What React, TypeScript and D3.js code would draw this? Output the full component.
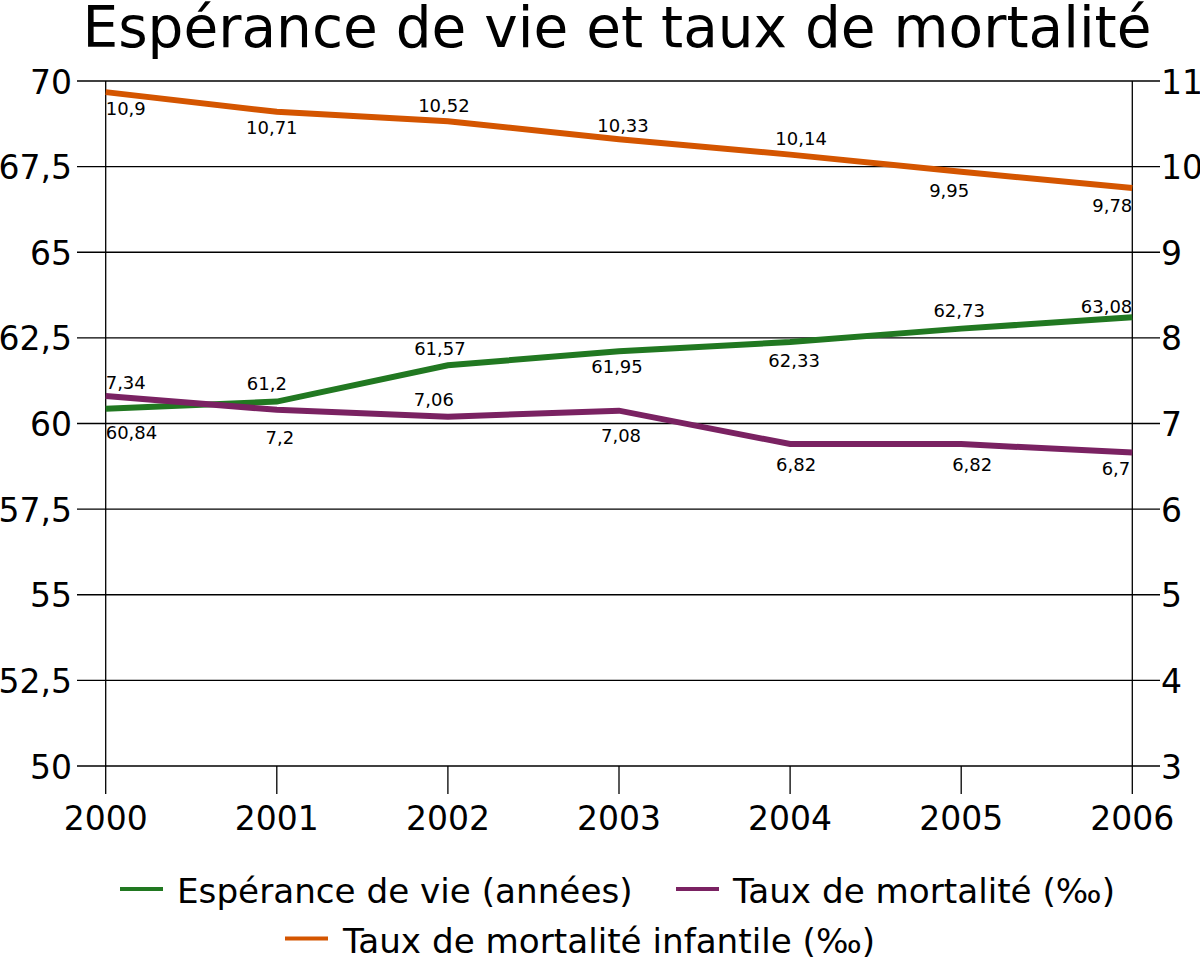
import React from "react";
import * as d3 from "d3";

const years = [2000, 2001, 2002, 2003, 2004, 2005, 2006];
const lifeExpectancy = [60.43, 60.64, 61.7, 62.11, 62.38, 62.77, 63.1];
const lifeExpectancyLabels = ["60,84", "61,2", "61,57", "61,95", "62,33", "62,73", "63,08"];
const mortality = [7.32, 7.16, 7.08, 7.15, 6.76, 6.76, 6.66];
const mortalityLabels = ["7,34", "7,2", "7,06", "7,08", "6,82", "6,82", "6,7"];
const infantMortality = [10.87, 10.64, 10.53, 10.32, 10.14, 9.94, 9.75];
const infantMortalityLabels = ["10,9", "10,71", "10,52", "10,33", "10,14", "9,95", "9,78"];
const leftTicks = [50, 52.5, 55, 57.5, 60, 62.5, 65, 67.5, 70];
const rightTicks = [3, 4, 5, 6, 7, 8, 9, 10, 11];

const title = "Espérance de vie et taux de mortalité";
const seriesNames = ["Espérance de vie (années)", "Taux de mortalité (‰)", "Taux de mortalité infantile (‰)"];

// label placement offsets (layout)
const lifeDx = [0, -10, -8, -2, 4, -2, 0];
const lifeDy = [30, -12, -10, 22, 25, -12, -4];
const mortDx = [0, 3, -14, 2, 6, 11, -2];
const mortDy = [-7, 34, -11, 31, 27, 27, 22];
const infDx = [0, -5, -4, 4, 11, -12, 0];
const infDy = [23, 22, -9, -7, -10, 25, 24];

const GREEN = "#217821";
const PURPLE = "#7a2262";
const ORANGE = "#d45500";
const FONT = "DejaVu Sans, Verdana, sans-serif";

export default function App() {
  const W = 1200, H = 958;
  const x = d3.scaleLinear().domain([2000, 2006]).range([105.7, 1132.3]);
  const yL = d3.scaleLinear().domain([50, 70]).range([766, 81]);
  const yR = d3.scaleLinear().domain([3, 11]).range([766, 81]);

  const lineL = d3.line<number>().x((_, i) => x(years[i])).y((d) => yL(d));
  const lineR = d3.line<number>().x((_, i) => x(years[i])).y((d) => yR(d));

  const labels = (
    vals: number[], texts: string[], scale: d3.ScaleLinear<number, number>, dx: number[], dy: number[], key: string
  ) =>
    vals.map((v, i) => (
      <text
        key={key + i}
        x={x(years[i]) + dx[i]}
        y={scale(v) + dy[i]}
        textAnchor={i === 0 ? "start" : i === vals.length - 1 ? "end" : "middle"}
        fontSize={18}
        fill="#000"
      >
        {texts[i]}
      </text>
    ));

  return (
    <svg width={W} height={H} style={{ position: "absolute", left: 0, top: 0, background: "#fff" }} fontFamily={FONT}>
      <rect x={0} y={0} width={W} height={H} fill="#fff" />
      <text x={617} y={47} textAnchor="middle" fontSize={56.5}>{title}</text>

      {/* grid lines */}
      {leftTicks.map((t) => (
        <line key={"g" + t} x1={77} x2={1160} y1={yL(t)} y2={yL(t)} stroke="#000" strokeWidth={1.3} />
      ))}
      {/* vertical axis lines */}
      <line x1={x(2000)} x2={x(2000)} y1={81} y2={794} stroke="#000" strokeWidth={1.3} />
      <line x1={x(2006)} x2={x(2006)} y1={81} y2={794} stroke="#000" strokeWidth={1.3} />
      {years.slice(1, -1).map((yr) => (
        <line key={"xt" + yr} x1={x(yr)} x2={x(yr)} y1={766} y2={794} stroke="#000" strokeWidth={1.3} />
      ))}

      {/* tick labels */}
      {leftTicks.map((t) => (
        <text key={"lt" + t} x={72} y={yL(t) + 12.5} textAnchor="end" fontSize={33}>
          {d3.format("")(t).replace(".", ",")}
        </text>
      ))}
      {rightTicks.map((t) => (
        <text key={"rt" + t} x={1161} y={yR(t) + 12.5} textAnchor="start" fontSize={33}>
          {t}
        </text>
      ))}
      {years.map((yr) => (
        <text key={"xl" + yr} x={x(yr)} y={830} textAnchor="middle" fontSize={33}>
          {yr}
        </text>
      ))}

      {/* series */}
      <path d={lineR(infantMortality) || ""} fill="none" stroke={ORANGE} strokeWidth={6} />
      <path d={lineL(lifeExpectancy) || ""} fill="none" stroke={GREEN} strokeWidth={6} />
      <path d={lineR(mortality) || ""} fill="none" stroke={PURPLE} strokeWidth={6} />

      {labels(infantMortality, infantMortalityLabels, yR, infDx, infDy, "inf")}
      {labels(lifeExpectancy, lifeExpectancyLabels, yL, lifeDx, lifeDy, "life")}
      {labels(mortality, mortalityLabels, yR, mortDx, mortDy, "mort")}

      {/* legend */}
      <line x1={120} x2={163} y1={889} y2={889} stroke={GREEN} strokeWidth={4} />
      <text x={177} y={903} fontSize={34.2}>{seriesNames[0]}</text>
      <line x1={676} x2={719} y1={889} y2={889} stroke={PURPLE} strokeWidth={4} />
      <text x={733} y={903} fontSize={34.2}>{seriesNames[1]}</text>
      <line x1={285} x2={328} y1={938.5} y2={938.5} stroke={ORANGE} strokeWidth={4} />
      <text x={343} y={953} fontSize={34.2}>{seriesNames[2]}</text>
    </svg>
  );
}
